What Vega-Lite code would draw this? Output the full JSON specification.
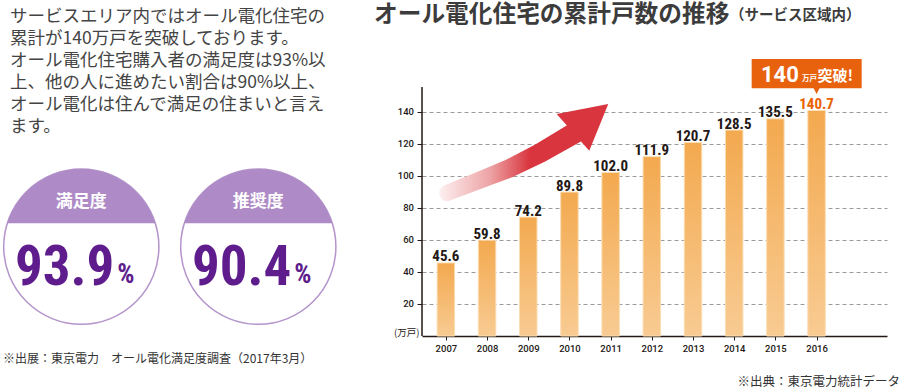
{
  "$schema": "https://vega.github.io/schema/vega-lite/v6.json",
  "padding": 0,
  "background": "#ffffff",
  "bounds": "flush",
  "spacing": 85,
  "config": {"view": {"stroke": null}, "font": "Noto Sans CJK JP"},
  "datasets": {
    "growth": [
      {"year": 2007, "value": 45.6}, {"year": 2008, "value": 59.8}, {"year": 2009, "value": 74.2},
      {"year": 2010, "value": 89.8}, {"year": 2011, "value": 102.0}, {"year": 2012, "value": 111.9},
      {"year": 2013, "value": 120.7}, {"year": 2014, "value": 128.5}, {"year": 2015, "value": 135.5},
      {"year": 2016, "value": 140.7}
    ],
    "arrow": [
      {"year": 2007.03, "value": 89.2, "t": 0},
      {"year": 2007.83, "value": 97.3, "t": 0.25},
      {"year": 2008.56, "value": 104.8, "t": 0.5},
      {"year": 2009.29, "value": 114.2, "t": 0.75},
      {"year": 2010.13, "value": 126.7, "t": 1}
    ],
    "para": [
      {"line": 1, "text": "サービスエリア内ではオール電化住宅の"},
      {"line": 2, "text": "累計が140万戸を突破しております。"},
      {"line": 3, "text": "オール電化住宅購入者の満足度は93%以"},
      {"line": 4, "text": "上、他の人に進めたい割合は90%以上、"},
      {"line": 5, "text": "オール電化は住んで満足の住まいと言え"},
      {"line": 6, "text": "ます。"}
    ],
    "badges": [
      {"slot": 1, "name": "満足度", "pct": "93.9"},
      {"slot": 2, "name": "推奨度", "pct": "90.4"}
    ]
  },
  "hconcat": [
    {
      "width": 334,
      "height": 389,
      "layer": [
        {
          "data": {"name": "para"},
          "mark": {"type": "text", "align": "left", "baseline": "alphabetic", "dy": 6.6, "fontSize": 17.5, "color": "#444444", "font": "Noto Sans CJK JP"},
          "encoding": {
            "x": {"datum": 0.5972, "type": "quantitative", "scale": {"domain": [0.5576, 2.4446], "nice": false, "zero": false}, "axis": null},
            "y": {"field": "line", "type": "quantitative", "scale": {"domain": [0.3182, 18], "nice": false, "zero": false, "reverse": true}, "axis": null},
            "text": {"field": "text"}
          }
        },
        {
          "data": {"name": "badges"},
          "mark": {"type": "point", "shape": "circle", "size": 24087, "filled": true, "fill": "#ffffff", "stroke": "#B494CB", "strokeWidth": 1.5, "opacity": 1},
          "encoding": {
            "x": {"field": "slot", "type": "quantitative", "scale": {"domain": [0.5576, 2.4446], "nice": false, "zero": false}, "axis": null},
            "y": {"datum": 11.532, "type": "quantitative", "scale": {"domain": [0.3182, 18], "nice": false, "zero": false, "reverse": true}, "axis": null}
          }
        },
        {
          "data": {"name": "badges"},
          "mark": {"type": "point", "shape": "M-0.9535,-0.3015A1,1,0,0,1,0.9535,-0.3015Z", "size": 24087, "filled": true, "fill": "#AE8BC6", "strokeWidth": 0, "opacity": 1},
          "encoding": {
            "x": {"field": "slot", "type": "quantitative", "scale": {"domain": [0.5576, 2.4446], "nice": false, "zero": false}, "axis": null},
            "y": {"datum": 11.532, "type": "quantitative", "scale": {"domain": [0.3182, 18], "nice": false, "zero": false, "reverse": true}, "axis": null}
          }
        },
        {
          "data": {"name": "badges"},
          "mark": {"type": "text", "align": "center", "baseline": "alphabetic", "fontSize": 17, "fontWeight": "bold", "color": "#ffffff"},
          "encoding": {
            "x": {"field": "slot", "type": "quantitative", "scale": {"domain": [0.5576, 2.4446], "nice": false, "zero": false}, "axis": null},
            "y": {"datum": 9.75, "type": "quantitative", "scale": {"domain": [0.3182, 18], "nice": false, "zero": false, "reverse": true}, "axis": null},
            "text": {"field": "name"}
          }
        },
        {
          "data": {"name": "badges"},
          "mark": {"type": "text", "align": "right", "baseline": "alphabetic", "font": "'Roboto Condensed', 'DejaVu Sans Condensed', 'Liberation Sans Narrow', Roboto, sans-serif", "fontSize": 55, "fontWeight": "bold", "color": "#5E1C8C", "dx": 33},
          "encoding": {
            "x": {"field": "slot", "type": "quantitative", "scale": {"domain": [0.5576, 2.4446], "nice": false, "zero": false}, "axis": null},
            "y": {"datum": 13.27, "type": "quantitative", "scale": {"domain": [0.3182, 18], "nice": false, "zero": false, "reverse": true}, "axis": null},
            "text": {"field": "pct"}
          }
        },
        {
          "data": {"name": "badges"},
          "mark": {"type": "text", "align": "left", "baseline": "alphabetic", "font": "'Roboto Condensed', 'DejaVu Sans Condensed', 'Liberation Sans Narrow', Roboto, sans-serif", "fontSize": 27, "fontWeight": "bold", "color": "#5E1C8C", "dx": 36, "text": "%"},
          "encoding": {
            "x": {"field": "slot", "type": "quantitative", "scale": {"domain": [0.5576, 2.4446], "nice": false, "zero": false}, "axis": null},
            "y": {"datum": 13.18, "type": "quantitative", "scale": {"domain": [0.3182, 18], "nice": false, "zero": false, "reverse": true}, "axis": null}
          }
        },
        {
          "data": {"values": [{"note": "※出展：東京電力　オール電化満足度調査（2017年3月）"}]},
          "mark": {"type": "text", "align": "left", "baseline": "alphabetic", "fontSize": 12, "color": "#333333"},
          "encoding": {
            "x": {"datum": 0.5576, "type": "quantitative", "scale": {"domain": [0.5576, 2.4446], "nice": false, "zero": false}, "axis": null},
            "y": {"datum": 16.8, "type": "quantitative", "scale": {"domain": [0.3182, 18], "nice": false, "zero": false, "reverse": true}, "axis": null},
            "text": {"field": "note"}
          }
        }
      ]
    },
    {
      "width": 465,
      "height": 336,
      "layer": [
        {
          "data": {"name": "growth"},
          "mark": {
            "type": "bar", "size": 17.5, "stroke": "#FBDDB3", "strokeWidth": 1,
            "color": {"gradient": "linear", "x1": 0, "y1": 0, "x2": 0, "y2": 1,
              "stops": [{"offset": 0, "color": "#F3A94F"}, {"offset": 1, "color": "#F8CB92"}]}
          },
          "encoding": {
            "x": {"field": "year", "type": "quantitative",
              "scale": {"domain": [2006.42, 2017.71], "nice": false, "zero": false, "padding": 0},
              "axis": {"values": [2007, 2008, 2009, 2010, 2011, 2012, 2013, 2014, 2015, 2016], "format": "d", "title": null, "grid": false,
                "domainColor": "#231815", "domainWidth": 1.5, "tickColor": "#231815", "tickSize": 4, "tickWidth": 1,
                "labelFont": "Roboto", "labelFontSize": 9.5, "labelFontWeight": 500, "labelColor": "#231815", "labelPadding": 3.5}},
            "y": {"field": "value", "type": "quantitative",
              "scale": {"domain": [0, 209.66], "nice": false, "zero": true, "padding": 0},
              "axis": {"values": [20, 40, 60, 80, 100, 120, 140], "domain": false, "grid": true, "gridDash": [4, 3], "gridColor": "#9A9A9A", "gridWidth": 1,
                "tickColor": "#231815", "tickSize": 5, "tickWidth": 1,
                "labelFont": "Roboto", "labelFontSize": 9.5, "labelFontWeight": 500, "labelColor": "#231815", "labelPadding": 3.5,
                "title": "(万戸)", "titleAngle": 0, "titleX": -3, "titleY": 332.5, "titleAlign": "right", "titleBaseline": "middle",
                "titleFontSize": 9.5, "titleFontWeight": "normal", "titleColor": "#231815", "titleFont": "Noto Sans CJK JP"}}
          }
        },
        {
          "data": {"values": [{}]},
          "mark": {"type": "rule", "color": "#231815", "strokeWidth": 1.5},
          "encoding": {
            "x": {"datum": 2006.42, "type": "quantitative"},
            "y": {"datum": 0, "type": "quantitative"},
            "y2": {"datum": 155.4}
          }
        },
        {
          "data": {"name": "arrow"},
          "mark": {
            "type": "trail",
            "color": {"gradient": "linear", "x1": 0, "y1": 0, "x2": 1, "y2": 0,
              "stops": [{"offset": 0, "color": "#FDF0F0"}, {"offset": 0.35, "color": "#EDA3A5"}, {"offset": 0.62, "color": "#D9353E"}, {"offset": 1, "color": "#D9353E"}]}
          },
          "encoding": {
            "x": {"field": "year", "type": "quantitative"},
            "y": {"field": "value", "type": "quantitative"},
            "size": {"field": "t", "type": "quantitative", "scale": {"domain": [0, 1], "range": [16, 21]}, "legend": null}
          }
        },
        {
          "data": {"values": [{}]},
          "mark": {"type": "point", "shape": "M0.94,-0.756L-1.124,-0.356L0.18,1.112Z", "size": 2500, "filled": true, "fill": "#D9353E", "strokeWidth": 0, "opacity": 1},
          "encoding": {
            "x": {"datum": 2010.372, "type": "quantitative"},
            "y": {"datum": 132.97, "type": "quantitative"}
          }
        },
        {
          "data": {"name": "growth"},
          "mark": {"type": "text", "align": "center", "baseline": "alphabetic", "dy": -1.5, "font": "'Roboto Condensed', 'DejaVu Sans Condensed', 'Liberation Sans Narrow', Roboto, sans-serif", "fontSize": 15, "fontWeight": "bold"},
          "encoding": {
            "x": {"field": "year", "type": "quantitative"},
            "y": {"field": "value", "type": "quantitative"},
            "text": {"field": "value", "format": ".1f"},
            "color": {"condition": {"test": "datum.year === 2016", "value": "#EB6100"}, "value": "#231815"}
          }
        },
        {
          "data": {"name": "growth"},
          "transform": [{"filter": "datum.year === 2016"}],
          "mark": {"type": "point", "shape": "M-1.298,-1.03H0.902V-0.444H0.06L0,-0.33L-0.06,-0.444H-1.298Z", "size": 10000, "filled": true, "fill": "#E8620E", "strokeWidth": 0, "opacity": 1},
          "encoding": {
            "x": {"field": "year", "type": "quantitative"},
            "y": {"field": "value", "type": "quantitative"}
          }
        },
        {
          "data": {"name": "growth"},
          "transform": [{"filter": "datum.year === 2016"}],
          "mark": {"type": "text", "text": "140", "align": "left", "baseline": "alphabetic", "dx": -55.6, "dy": -28.8, "font": "Roboto", "fontSize": 22, "fontWeight": "bold", "color": "#ffffff"},
          "encoding": {
            "x": {"field": "year", "type": "quantitative"},
            "y": {"field": "value", "type": "quantitative"}
          }
        },
        {
          "data": {"name": "growth"},
          "transform": [{"filter": "datum.year === 2016"}],
          "mark": {"type": "text", "text": "万戸", "align": "left", "baseline": "alphabetic", "dx": -14.6, "dy": -29.3, "fontSize": 7.5, "fontWeight": "bold", "color": "#ffffff"},
          "encoding": {
            "x": {"field": "year", "type": "quantitative"},
            "y": {"field": "value", "type": "quantitative"}
          }
        },
        {
          "data": {"name": "growth"},
          "transform": [{"filter": "datum.year === 2016"}],
          "mark": {"type": "text", "text": "突破!", "align": "left", "baseline": "alphabetic", "dx": 0.9, "dy": -30, "fontSize": 15, "fontWeight": "bold", "color": "#ffffff"},
          "encoding": {
            "x": {"field": "year", "type": "quantitative"},
            "y": {"field": "value", "type": "quantitative"}
          }
        },
        {
          "data": {"values": [{"label": "オール電化住宅の累計戸数の推移"}]},
          "mark": {"type": "text", "align": "left", "baseline": "alphabetic", "fontSize": 23.7, "fontWeight": "bold", "color": "#3C3C3C"},
          "encoding": {
            "x": {"datum": 2005.255, "type": "quantitative"},
            "y": {"datum": 195.9, "type": "quantitative"},
            "text": {"field": "label"}
          }
        },
        {
          "data": {"values": [{"label": "（サービス区域内）"}]},
          "mark": {"type": "text", "align": "left", "baseline": "alphabetic", "fontSize": 14.5, "fontWeight": "bold", "color": "#3C3C3C"},
          "encoding": {
            "x": {"datum": 2013.898, "type": "quantitative"},
            "y": {"datum": 197.3, "type": "quantitative"},
            "text": {"field": "label"}
          }
        },
        {
          "data": {"values": [{"label": "※出典：東京電力統計データ"}]},
          "mark": {"type": "text", "align": "right", "baseline": "alphabetic", "fontSize": 12.5, "color": "#333333"},
          "encoding": {
            "x": {"datum": 2018.025, "type": "quantitative"},
            "y": {"datum": -31.2, "type": "quantitative"},
            "text": {"field": "label"}
          }
        }
      ]
    }
  ]
}
